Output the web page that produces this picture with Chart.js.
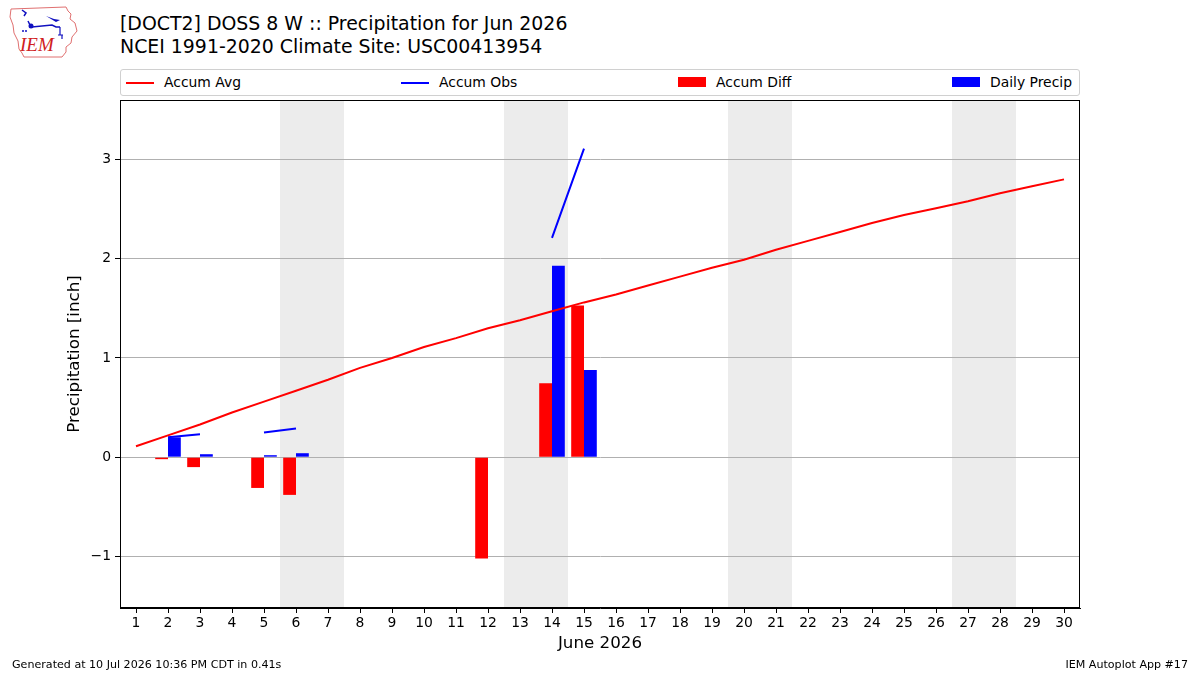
<!DOCTYPE html>
<html>
<head>
<meta charset="utf-8">
<script src="https://cdn.jsdelivr.net/npm/chart.js@4"></script>
<style>
    body { margin: 0; width: 1200px; height: 675px; position: relative; background: #fff; font-family: "DejaVu Sans", sans-serif; overflow: hidden; }
    #chart { position: absolute; left: 0; top: 0; }
    .title { position: absolute; left: 120px; font-size: 18.9px; color: #000; white-space: nowrap; line-height: 1; }
    .legend { position: absolute; left: 120px; top: 69px; width: 958px; height: 25px; border: 1px solid #d0d0d0; border-radius: 3px; }
    .item { position: absolute; top: 0; height: 25px; font-size: 13.9px; line-height: 25px; white-space: nowrap; }
    .item .ln { position: absolute; top: 12px; width: 28px; height: 2px; }
    .item .pt { position: absolute; top: 7px; width: 28px; height: 10px; }
    .item span.t { position: absolute; left: 38px; top: 0; }
    .foot { position: absolute; top: 658px; font-size: 11.1px; white-space: nowrap; }
</style>
</head>
<body>
<svg style="position:absolute;left:8px;top:5px" width="72" height="54" viewBox="0 0 72 54">
    <path d="M3,4 L58,2 L60,6 L63,9 L62,14 L67,18 L69,26 L64,32 L63,38 L58,42 L58,47 L54,52 L16,52 L14,48 L11,44 L10,36 L6,28 L5,20 L2,12 Z" fill="none" stroke="#e07070" stroke-width="1"/>
    <path d="M14,5 L18,8 L16,11 M20,16 L22,20 L24,22 L44,20 L48,22 L52,22" fill="none" stroke="#1010c0" stroke-width="1.5"/>
    <circle cx="23" cy="21" r="2.5" fill="#1010c0"/>
    <path d="M38,11 L46,14 L52,15 L48,17 Z" fill="#1010c0"/>
    <path d="M52,22 L52,30 M50,30 L55,30 M54,30 L54,34" stroke="#1010c0" stroke-width="1.2"/>
    <circle cx="18" cy="26" r="1" fill="#1010c0"/><circle cx="15" cy="26" r="1" fill="#1010c0"/>
    <text x="12" y="46" font-family="Liberation Serif" font-style="italic" font-size="19" fill="#d02020">IEM</text>
</svg>
<div class="title" style="top:14px">[DOCT2] DOSS 8 W :: Precipitation for Jun 2026</div>
<div class="title" style="top:37px">NCEI 1991-2020 Climate Site: USC00413954</div>
<div class="legend">
    <div class="item" style="left:5px"><div class="ln" style="background:#ff0000"></div><span class="t">Accum Avg</span></div>
    <div class="item" style="left:280px"><div class="ln" style="background:#0000ff"></div><span class="t">Accum Obs</span></div>
    <div class="item" style="left:557px"><div class="pt" style="background:#ff0000"></div><span class="t">Accum Diff</span></div>
    <div class="item" style="left:831px"><div class="pt" style="background:#0000ff"></div><span class="t">Daily Precip</span></div>
</div>
<canvas id="chart" width="1200" height="675"></canvas>
<div class="foot" style="left:12px">Generated at 10 Jul 2026 10:36 PM CDT in 0.41s</div>
<div class="foot" style="right:12px">IEM Autoplot App #17</div>
<script>
const days = [1,2,3,4,5,6,7,8,9,10,11,12,13,14,15,16,17,18,19,20,21,22,23,24,25,26,27,28,29,30];
const accumAvg = [0.11,0.22,0.33,0.45,0.56,0.67,0.78,0.90,1.00,1.11,1.20,1.30,1.38,1.47,1.56,1.64,1.73,1.82,1.91,1.99,2.09,2.18,2.27,2.36,2.44,2.51,2.58,2.66,2.73,2.80];
const accumObs = [null,0.20,0.23,null,0.25,0.29,null,null,null,null,null,null,null,2.21,3.11,null,null,null,null,null,null,null,null,null,null,null,null,null,null,null];
const accumDiff = [null,-0.02,-0.10,null,-0.31,-0.38,null,null,null,null,null,-1.02,null,0.745,1.53,null,null,null,null,null,null,null,null,null,null,null,null,null,null,null];
const dailyPrecip = [null,0.20,0.03,null,0.02,0.04,null,null,null,null,null,null,null,1.93,0.88,null,null,null,null,null,null,null,null,null,null,null,null,null,null,null];
const weekendDays = [6,7,13,14,20,21,27,28];
const yTicks = [-1,0,1,2,3];

function pts(vals) {
    return days.map((d, i) => ({x: d, y: vals[i]}));
}

Chart.defaults.font.family = "DejaVu Sans";
Chart.defaults.color = "#000";

const shade = {
    id: "shade",
    beforeDraw(chart) {
        const {ctx, chartArea: a, scales: {x}} = chart;
        ctx.save();
        ctx.fillStyle = "#ececec";
        weekendDays.forEach(d => {
            const l = x.getPixelForValue(d - 0.5);
            const r = x.getPixelForValue(d + 0.5);
            ctx.fillRect(l, a.top, r - l, a.bottom - a.top);
        });
        ctx.restore();
    },
    afterDraw(chart) {
        const {ctx, chartArea: a} = chart;
        ctx.save();
        ctx.strokeStyle = "#000";
        ctx.lineWidth = 1;
        ctx.strokeRect(a.left + 0.5, a.top + 0.5, a.right - a.left - 1, a.bottom - a.top - 1);
        ctx.restore();
    }
};

new Chart(document.getElementById("chart"), {
    type: "bar",
    data: {
        datasets: [
            {type: "line", label: "Accum Avg", data: pts(accumAvg), borderColor: "#ff0000", borderWidth: 2, pointRadius: 0, tension: 0, order: 0},
            {type: "line", label: "Accum Obs", data: pts(accumObs), borderColor: "#0000ff", borderWidth: 2, pointRadius: 0, tension: 0, spanGaps: false, order: 0},
            {label: "Accum Diff", data: pts(accumDiff), backgroundColor: "#ff0000", borderWidth: 0, order: 1},
            {label: "Daily Precip", data: pts(dailyPrecip), backgroundColor: "#0000ff", borderWidth: 0, order: 1}
        ]
    },
    options: {
        responsive: false,
        animation: false,
        categoryPercentage: 0.8,
        barPercentage: 1.0,
        layout: {padding: {top: 100, right: 120, left: 0, bottom: 0}},
        plugins: {legend: {display: false}, tooltip: {enabled: false}},
        scales: {
            x: {
                type: "linear",
                min: 0.5,
                max: 30.5,
                offset: false,
                afterFit: s => { s.height = 67; },
                afterBuildTicks: s => { s.ticks = days.map(v => ({value: v})); },
                grid: {offset: false, drawOnChartArea: false, tickLength: 5, tickColor: "#000"},
                border: {color: "#000"},
                ticks: {font: {size: 13.9}, padding: 2, maxRotation: 0, autoSkip: false},
                title: {display: true, text: "June 2026", font: {size: 16.7}, padding: {top: 0, bottom: 21}}
            },
            y: {
                min: -1.52,
                max: 3.6,
                afterFit: s => { s.width = 120; },
                afterBuildTicks: s => { s.ticks = yTicks.map(v => ({value: v})); },
                grid: {color: "#b0b0b0", lineWidth: 1, tickLength: 5, tickColor: "#000"},
                border: {color: "#000"},
                ticks: {font: {size: 13.9}, padding: 4, callback: v => String(v).replace("-", "\u2212")},
                title: {display: true, text: "Precipitation [inch]", font: {size: 16.7}, padding: {top: 65, bottom: 0}}
            }
        }
    },
    plugins: [shade]
});
</script>
</body>
</html>
